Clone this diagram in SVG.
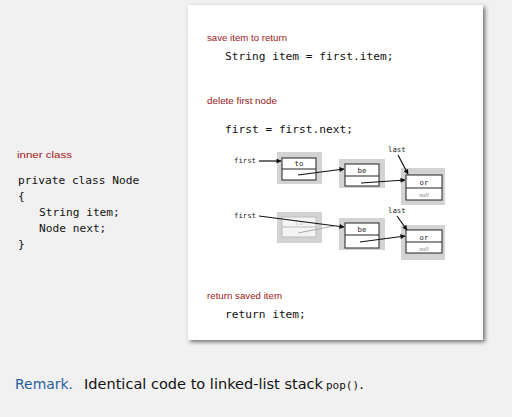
<svg xmlns="http://www.w3.org/2000/svg" width="512" height="417" viewBox="0 0 512 417">
  <defs>
    <style>
      .lbl { font-family: "Liberation Sans", Arial, sans-serif; font-size: 9.5px; fill: #a01818; }
      .code { font-family: "DejaVu Sans Mono", "Liberation Mono", monospace; font-size: 11.2px; fill: #111; }
      .small { font-family: "DejaVu Sans Mono", "Liberation Mono", monospace; font-size: 7.3px; fill: #222; }
      .nul { font-family: "Liberation Serif", serif; font-style: italic; font-size: 6px; fill: #777; }
      .halo { fill: #d3d3d3; }
      .cell { fill: #fff; stroke: #222; stroke-width: 1; }
      .ghost { fill: #f4f4f4; stroke: #bbb; stroke-width: 1; }
      .link { stroke: #111; stroke-width: 1.2; fill: none; marker-end: url(#ah); }
      .faint { stroke: #aaa; stroke-width: 1; fill: none; }
      .remark { font-family: "DejaVu Sans", "Liberation Sans", sans-serif; font-size: 14.5px; fill: #111; }
    </style>
    <marker id="ah" viewBox="0 0 10 10" refX="9" refY="5" markerWidth="6" markerHeight="5" orient="auto" markerUnits="userSpaceOnUse">
      <path d="M0,0 L10,5 L0,10 z" fill="#111"/>
    </marker>
    <filter id="shadow" x="-10%" y="-10%" width="120%" height="120%">
      <feGaussianBlur in="SourceAlpha" stdDeviation="2"/>
      <feOffset dx="2" dy="2"/>
      <feComponentTransfer><feFuncA type="linear" slope="0.55"/></feComponentTransfer>
      <feMerge><feMergeNode/><feMergeNode in="SourceGraphic"/></feMerge>
    </filter>
  </defs>

  <!-- page background -->
  <rect width="512" height="417" fill="#f1f1f1"/>

  <!-- code panel -->
  <rect x="188" y="5" width="295" height="335" fill="#fff" filter="url(#shadow)"/>

  <g id="panel-text">
    <text class="lbl" x="207" y="41" textLength="80" lengthAdjust="spacingAndGlyphs">save item to return</text>
    <text class="code" x="225" y="60">String item = first.item;</text>
    <text class="lbl" x="207" y="104" textLength="70" lengthAdjust="spacingAndGlyphs">delete first node</text>
    <text class="code" x="225" y="133">first = first.next;</text>
    <text class="lbl" x="207" y="299" textLength="75" lengthAdjust="spacingAndGlyphs">return saved item</text>
    <text class="code" x="225" y="318">return item;</text>
  </g>

  <!-- inner class listing -->
  <g id="inner-class">
    <text class="lbl" x="17" y="158" textLength="55" lengthAdjust="spacingAndGlyphs">inner class</text>
    <text class="code" x="18" y="184">private class Node</text>
    <text class="code" x="18" y="200">{</text>
    <text class="code" x="39" y="216">String item;</text>
    <text class="code" x="39" y="232">Node next;</text>
    <text class="code" x="18" y="248">}</text>
  </g>

  <!-- before: first -> to -> be -> or -->
  <g id="node-to">
    <rect class="halo" x="277" y="152" width="45" height="32"/>
    <rect class="cell" x="282" y="158" width="34" height="22"/>
    <line x1="282" y1="169" x2="316" y2="169" stroke="#222"/>
    <text class="small" x="299" y="166" text-anchor="middle">to</text>
  </g>
  <g id="node-be">
    <rect class="halo" x="339" y="159" width="46" height="29"/>
    <rect class="cell" x="345" y="164" width="34" height="22"/>
    <line x1="345" y1="176" x2="379" y2="176" stroke="#222"/>
    <text class="small" x="362" y="173" text-anchor="middle">be</text>
  </g>
  <g id="node-or">
    <rect class="halo" x="401" y="168" width="44" height="37"/>
    <rect class="cell" x="406" y="175" width="36" height="25"/>
    <line x1="406" y1="188" x2="442" y2="188" stroke="#222"/>
    <text class="small" x="424" y="185" text-anchor="middle">or</text>
    <text class="nul" x="424" y="197" text-anchor="middle">null</text>
  </g>

  <!-- after: first -> be -> or, old node unlinked -->
  <g id="node-to-old">
    <rect class="halo" x="277" y="212" width="45" height="31"/>
    <rect class="ghost" x="282" y="217" width="34" height="20"/>
    <line x1="282" y1="227" x2="316" y2="227" stroke="#bbb"/>
    <text class="small" x="299" y="225" text-anchor="middle" style="fill:#ccc">to</text>
  </g>
  <g id="node-be-2">
    <rect class="halo" x="339" y="218" width="46" height="32"/>
    <rect class="cell" x="345" y="223" width="34" height="25"/>
    <line x1="345" y1="235" x2="379" y2="235" stroke="#222"/>
    <text class="small" x="362" y="232" text-anchor="middle">be</text>
  </g>
  <g id="node-or-2">
    <rect class="halo" x="401" y="225" width="44" height="35"/>
    <rect class="cell" x="406" y="230" width="36" height="23"/>
    <line x1="406" y1="242" x2="442" y2="242" stroke="#222"/>
    <text class="small" x="424" y="240" text-anchor="middle">or</text>
    <text class="nul" x="424" y="251" text-anchor="middle">null</text>
  </g>

  <g id="refs">
    <text class="small" x="234" y="163">first</text>
    <text class="small" x="388" y="152">last</text>
    <text class="small" x="234" y="218">first</text>
    <text class="small" x="388" y="213">last</text>
  </g>

  <g id="connectors">
    <line class="link" x1="259" y1="161" x2="281" y2="161"/>
    <line class="link" x1="298" y1="175" x2="344" y2="169"/>
    <line class="link" x1="361" y1="183" x2="405" y2="180"/>
    <line class="link" x1="398" y1="155" x2="408" y2="174"/>
    <line class="faint" x1="298" y1="233" x2="334" y2="226"/>
    <line class="link" x1="259" y1="216" x2="344" y2="227"/>
    <line class="link" x1="360" y1="242" x2="405" y2="236"/>
    <line class="link" x1="397" y1="216" x2="407" y2="230"/>
  </g>

  <!-- remark line -->
  <g id="remark" class="remark">
    <text x="15" y="389" fill="#2a5f9e" textLength="58" lengthAdjust="spacingAndGlyphs">Remark.</text>
    <text x="84" y="389" textLength="239" lengthAdjust="spacingAndGlyphs">Identical code to linked-list stack</text>
    <text x="326" y="389"><tspan font-family="'DejaVu Sans Mono', monospace" font-size="11">pop()</tspan>.</text>
  </g>
</svg>
